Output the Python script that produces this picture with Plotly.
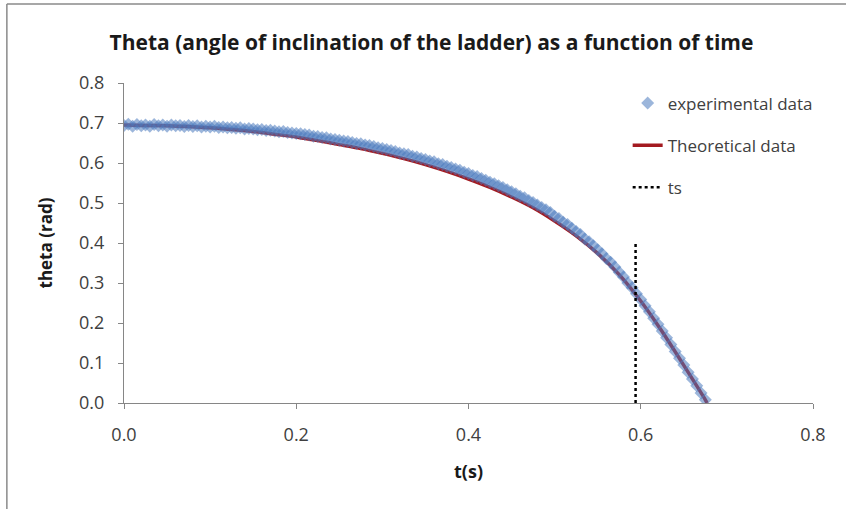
import plotly.graph_objects as go

# ---- data ----
t_exp = [round(i * 0.005, 3) for i in range(136)]
theta_exp = [
    0.694, 0.697, 0.692, 0.696, 0.693,
    0.695, 0.692, 0.696, 0.693, 0.695,
    0.692, 0.695, 0.693, 0.694, 0.691,
    0.694, 0.691, 0.693, 0.690, 0.692,
    0.690, 0.692, 0.689, 0.690, 0.688,
    0.689, 0.687, 0.688, 0.685, 0.686,
    0.685, 0.683, 0.684, 0.681, 0.682,
    0.680, 0.678, 0.679, 0.676, 0.675,
    0.674, 0.673, 0.671, 0.670, 0.667,
    0.666, 0.664, 0.663, 0.660, 0.659,
    0.657, 0.655, 0.654, 0.651, 0.649,
    0.648, 0.645, 0.644, 0.641, 0.638,
    0.636, 0.634, 0.631, 0.629, 0.625,
    0.623, 0.621, 0.617, 0.615, 0.611,
    0.609, 0.605, 0.603, 0.598, 0.596,
    0.592, 0.589, 0.585, 0.582, 0.577,
    0.574, 0.569, 0.566, 0.561, 0.557,
    0.552, 0.548, 0.543, 0.539, 0.533,
    0.528, 0.523, 0.517, 0.513, 0.506,
    0.501, 0.495, 0.489, 0.483, 0.476,
    0.467, 0.461, 0.452, 0.446, 0.437,
    0.429, 0.421, 0.410, 0.403, 0.393,
    0.383, 0.373, 0.361, 0.352, 0.340,
    0.327, 0.315, 0.300, 0.288, 0.273,
    0.259, 0.243, 0.228, 0.212, 0.197,
    0.180, 0.163, 0.146, 0.129, 0.112,
    0.095, 0.077, 0.060, 0.043, 0.025,
    0.008,
]

t_theory = [0.000, 0.025, 0.050, 0.075, 0.100, 0.125, 0.150, 0.175, 0.200,
            0.225, 0.250, 0.275, 0.300, 0.325, 0.350, 0.375, 0.400, 0.425,
            0.450, 0.475, 0.500, 0.525, 0.550, 0.575, 0.600, 0.625, 0.650,
            0.675, 0.677]
theta_theory = [0.695, 0.694, 0.693, 0.691, 0.688, 0.684, 0.679, 0.672, 0.665,
                0.656, 0.646, 0.636, 0.624, 0.611, 0.596, 0.579, 0.560, 0.539,
                0.515, 0.488, 0.455, 0.418, 0.374, 0.321, 0.255, 0.178, 0.094,
                0.008, 0.000]

ts_t = [0.594, 0.594]
ts_theta = [0.0, 0.4]

x_ticks = [0.0, 0.2, 0.4, 0.6, 0.8]
y_ticks = [0.0, 0.1, 0.2, 0.3, 0.4, 0.5, 0.6, 0.7, 0.8]

FONT = "Open Sans, Liberation Sans, sans-serif"

fig = go.Figure()

fig.add_trace(go.Scatter(
    x=t_theory, y=theta_theory, mode="lines", name="Theoretical data",
    line=dict(color="#A31A20", width=3.5, shape="spline", smoothing=0.6),
    legendrank=2, legendgroup="b",
))
fig.add_trace(go.Scatter(
    x=t_exp, y=theta_exp, mode="markers", name="experimental data",
    marker=dict(symbol="diamond", size=10, color="rgba(74,122,190,0.55)",
                line=dict(width=0)),
    legendrank=1, legendgroup="a",
))
fig.add_trace(go.Scatter(
    x=ts_t, y=ts_theta, mode="lines", name="ts",
    line=dict(color="black", width=2.5, dash="dot"), legendrank=3, legendgroup="c",
))

fig.update_layout(
    width=846, height=509,
    margin=dict(l=124, r=33, t=83, b=106),
    paper_bgcolor="white", plot_bgcolor="white",
    font=dict(family=FONT, size=17, color="#404040"),
    title=dict(text="<b>Theta (angle of inclination of the ladder) as a function of time</b>",
               x=0.51, xanchor="center", y=0.917, yanchor="middle",
               font=dict(family=FONT, size=21, color="#1a1a1a")),
    legend=dict(x=0.731, y=0.992, xanchor="left", yanchor="top",
                bgcolor="rgba(0,0,0,0)", tracegroupgap=17,
                font=dict(family=FONT, size=17, color="#404040")),
    xaxis=dict(range=[0, 0.8], tickvals=x_ticks, tickformat=".1f",
               showline=True, linecolor="#868686", linewidth=1,
               ticks="outside", ticklen=5, tickcolor="#868686",
               showgrid=False, zeroline=False, ticklabelstandoff=10,
               tickfont=dict(size=18),
               title=dict(text="<b>t(s)</b>", font=dict(size=18, color="#1a1a1a"), standoff=20)),
    yaxis=dict(range=[0, 0.8], tickvals=y_ticks, tickformat=".1f",
               showline=True, linecolor="#868686", linewidth=1,
               ticks="outside", ticklen=5, tickcolor="#868686",
               showgrid=False, zeroline=False, ticklabelstandoff=10,
               tickfont=dict(size=18),
               title=dict(text="<b>theta (rad)</b>", font=dict(size=17, color="#1a1a1a"), standoff=22)),
    shapes=[
        dict(type="line", xref="paper", yref="paper", x0=-0.170, x1=-0.170,
             y0=-0.34, y1=1.247, line=dict(color="#8a8a8a", width=1.5)),
        dict(type="line", xref="paper", yref="paper", x0=-0.170, x1=1.06,
             y0=1.247, y1=1.247, line=dict(color="#8a8a8a", width=1.5)),
    ],
)

fig.write_html("out.html")
